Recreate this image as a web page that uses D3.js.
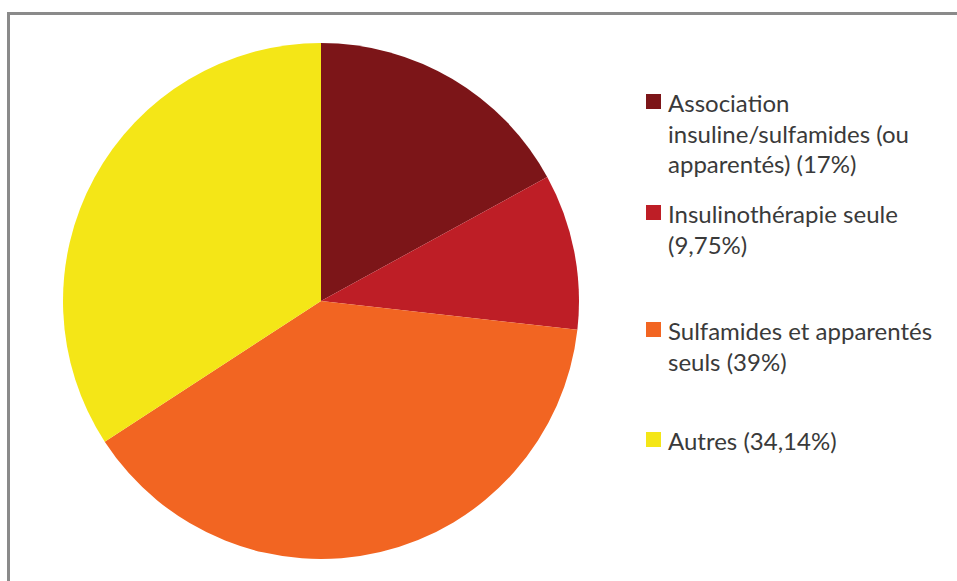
<!DOCTYPE html>
<html>
<head>
<meta charset="utf-8">
<script src="https://cdn.jsdelivr.net/npm/d3@7"></script>
<style>
    html, body { margin: 0; padding: 0; background: #fff; }
    svg { display: block; }
</style>
</head>
<body>
<div id="chart"></div>
<script>
    // ---------- Data ----------
    const categories = [
        "Association insuline/sulfamides (ou apparentés) (17%)",
        "Insulinothérapie seule (9,75%)",
        "Sulfamides et apparentés seuls (39%)",
        "Autres (34,14%)"
    ];
    const values = [17, 9.75, 39, 34.14];
    const legendLines = [
        ["Association", "insuline/sulfamides (ou", "apparentés) (17%)"],
        ["Insulinothérapie seule", "(9,75%)"],
        ["Sulfamides et apparentés", "seuls (39%)"],
        ["Autres (34,14%)"]
    ];
    const colors = ["#7c1518", "#be1e26", "#f26522", "#f4e617"];

    const width = 957, height = 581;
    const cx = 321, cy = 301, radius = 258;

    const svg = d3.select("#chart")
        .append("svg")
        .attr("width", width)
        .attr("height", height);

    // ---------- Frame ----------
    svg.append("path")
        .attr("d", `M8.5,${height} V13.5 H${width}`)
        .attr("fill", "none")
        .attr("stroke", "#8a8a8a")
        .attr("stroke-width", 3);

    const color = d3.scaleOrdinal().domain(categories).range(colors);

    // ---------- Pie ----------
    const pie = d3.pie().sort(null).value(d => d.value);
    const arc = d3.arc().innerRadius(0).outerRadius(radius);
    const data = categories.map((c, i) => ({ cat: c, value: values[i] }));

    svg.append("g")
        .attr("transform", `translate(${cx},${cy})`)
        .selectAll("path")
        .data(pie(data))
        .enter()
        .append("path")
        .attr("d", arc)
        .attr("fill", d => color(d.data.cat));

    // ---------- Legend ----------
    const itemTop = [102, 213, 330, 440];
    const lineH = 30.5;
    const legend = svg.append("g");

    categories.forEach((c, i) => {
        const g = legend.append("g");
        g.append("rect")
            .attr("x", 646)
            .attr("y", itemTop[i] - 8)
            .attr("width", 15)
            .attr("height", 15)
            .attr("fill", color(c));
        const t = g.append("text")
            .attr("x", 668)
            .attr("y", itemTop[i])
            .attr("dominant-baseline", "central")
            .attr("font-family", "Lato, 'Open Sans', sans-serif")
            .attr("font-size", 24)
            .attr("fill", "#3a3a3a");
        legendLines[i].forEach((line, j) => {
            t.append("tspan")
                .attr("x", 668)
                .attr("dy", j === 0 ? 0 : lineH)
                .text(line);
        });
    });
</script>
</body>
</html>
